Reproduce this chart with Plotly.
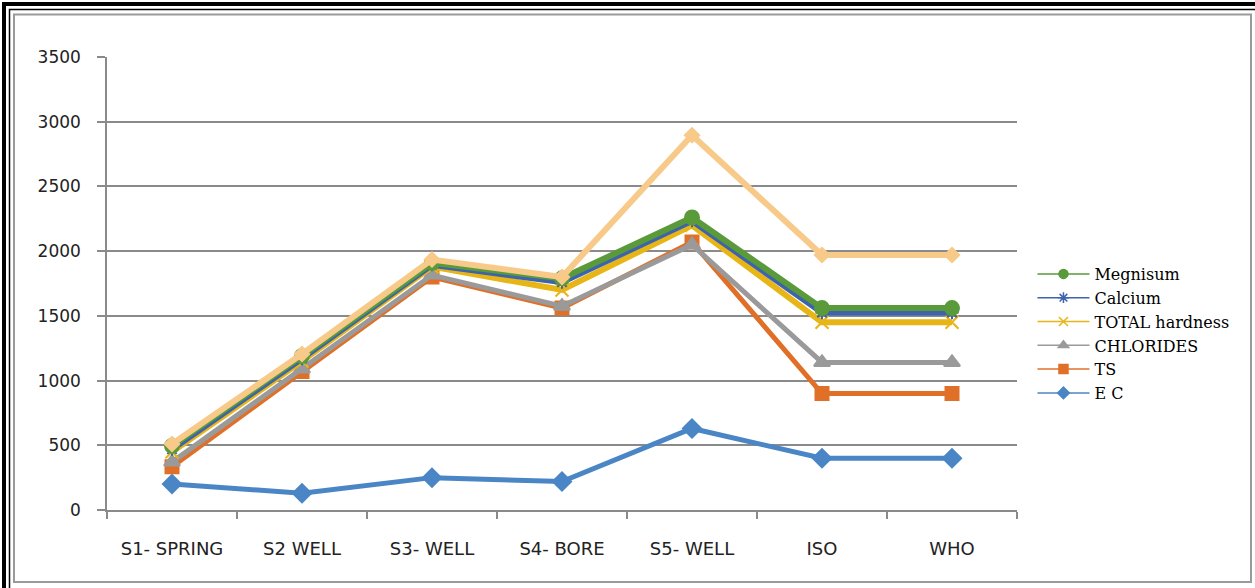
import plotly.graph_objects as go

categories = ["S1- SPRING", "S2 WELL", "S3- WELL", "S4- BORE", "S5- WELL", "ISO", "WHO"]

ec = [200, 130, 250, 220, 630, 400, 400]
ts = [335, 1070, 1800, 1560, 2070, 900, 900]
chlorides = [370, 1090, 1815, 1575, 2050, 1140, 1140]
total_hardness = [450, 1150, 1880, 1700, 2200, 1450, 1450]
calcium = [470, 1170, 1895, 1760, 2235, 1525, 1525]
megnisum = [495, 1190, 1910, 1790, 2260, 1560, 1560]
series7 = [510, 1205, 1935, 1800, 2895, 1970, 1970]

# name, values, color, marker symbol, marker size, line width
series = [
    ("E C", ec, "#4A86C5", "diamond", 14, 5),
    ("TS", ts, "#E07028", "square", 13, 5),
    ("CHLORIDES", chlorides, "#9A9A9A", "triangle-up", 14, 5),
    ("TOTAL hardness", total_hardness, "#E8B517", "x-thin-open", 13, 6),
    ("Calcium", calcium, "#3C63AC", "asterisk-open", 11, 6),
    ("Megnisum", megnisum, "#5A9A3A", "circle", 14, 6),
    ("Series7", series7, "#F8CA8A", "diamond", 11, 6),
]
legend_names = ["Megnisum", "Calcium", "TOTAL hardness", "CHLORIDES", "TS", "E C"]

fig = go.Figure()
for name, vals, color, sym, msize, lw in series:
    fig.add_trace(go.Scatter(
        x=categories, y=vals, mode="lines+markers", name=name,
        line=dict(color=color, width=lw),
        marker=dict(symbol=sym, size=msize, color=color,
                    line=dict(color=color, width=2)),
        showlegend=False, hoverinfo="x+y+name",
    ))

# legend-only entries with thin lines, as in the original legend
lookup = {s[0]: s for s in series}
for name in legend_names:
    _, vals, color, sym, msize, lw = lookup[name]
    fig.add_trace(go.Scatter(
        x=[None], y=[None], mode="lines+markers", name=name,
        line=dict(color=color, width=1.5),
        marker=dict(symbol=sym, size=9, color=color, line=dict(color=color, width=1.5)),
        showlegend=True,
    ))

L, R, T, B = 107, 1017, 57, 510
W, H = R - L, B - T


def px_x(p):
    return (p - L) / W


def px_y(p):
    return (B - p) / H


shapes = [
    dict(type="rect", xref="paper", yref="paper",
         x0=px_x(4), x1=px_x(1300), y0=px_y(640), y1=px_y(4),
         line=dict(color="#000000", width=4), layer="above"),
    dict(type="rect", xref="paper", yref="paper",
         x0=px_x(9.5), x1=px_x(1300), y0=px_y(640), y1=px_y(9.5),
         line=dict(color="#000000", width=1.5), layer="above"),
    dict(type="rect", xref="paper", yref="paper",
         x0=px_x(14), x1=px_x(1251), y0=px_y(582), y1=px_y(14.5),
         line=dict(color="#9a9a9a", width=2), layer="above"),
]

axis_color = "#8a8a8a"
fig.update_layout(
    width=1255, height=588,
    margin=dict(l=L, r=1255 - R, t=T, b=588 - B),
    paper_bgcolor="white", plot_bgcolor="white",
    shapes=shapes,
    showlegend=True,
    legend=dict(
        x=1.017, y=px_y(257), xanchor="left", yanchor="top",
        font=dict(family="DejaVu Serif", size=16, color="#000000"),
        bgcolor="rgba(0,0,0,0)", itemwidth=52, tracegroupgap=0,
    ),
    xaxis=dict(
        type="category", range=[-0.5, 6.5],
        showline=True, linecolor=axis_color, linewidth=1.5,
        ticks="outside", tickson="boundaries", ticklen=7, tickcolor=axis_color, tickwidth=1.5,
        showgrid=False, zeroline=False,
        tickfont=dict(family="DejaVu Sans", size=18, color="#222222"),
        ticklabelstandoff=22,
    ),
    yaxis=dict(
        range=[0, 3500], dtick=500, tick0=0,
        showline=True, linecolor=axis_color, linewidth=1.5,
        ticks="outside", ticklen=8, tickcolor=axis_color, tickwidth=1.5,
        showgrid=True, gridcolor=axis_color, gridwidth=1.5, zeroline=False,
        tickfont=dict(family="DejaVu Sans", size=17, color="#222222"),
        ticklabelstandoff=13,
    ),
)

fig.write_html("out.html")
